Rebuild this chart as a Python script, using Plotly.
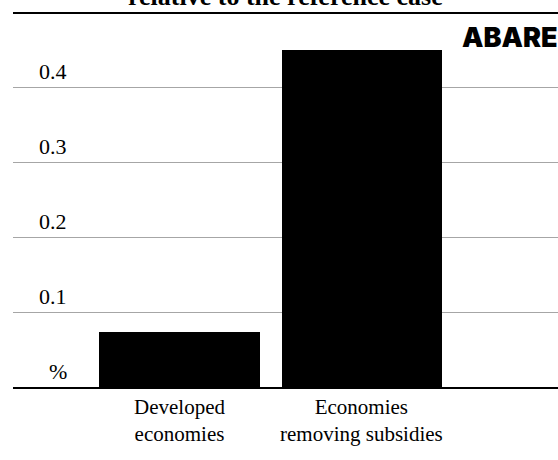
import plotly.graph_objects as go

categories = ["Developed<br>economies", "Economies<br>removing subsidies"]
values = [0.073, 0.45]
tick_vals = [0, 0.1, 0.2, 0.3, 0.4]
tick_text = ["%", "0.1", "0.2", "0.3", "0.4"]

_SERIF = "Liberation Serif"

fig = go.Figure(go.Bar(
    x=list(range(len(categories))), y=values,
    width=0.88,
    marker=dict(color="#000000", line=dict(width=0)),
    hoverinfo="skip",
))

# tick labels sit above their gridlines, right-aligned just left of the first bar
for v, t in zip(tick_vals, tick_text):
    fig.add_annotation(x=0.103, xref="paper", y=v, yref="y",
                       text=t, showarrow=False, xanchor="right", yanchor="middle",
                       yshift=16, font=dict(family=_SERIF, size=22, color="#000000"))

# category labels under the bars
for i, cat in enumerate(categories):
    fig.add_annotation(x=i, xref="x", y=0, yref="paper",
                       text=cat, showarrow=False, xanchor="center",
                       yanchor="middle", yshift=-33,
                       font=dict(family=_SERIF, size=21, color="#000000"))

# title cut off at the top of the frame
fig.add_annotation(x=(285 - 13) / 545, xref="paper", y=1, yref="paper",
                   text="<b>relative to the reference case</b>", showarrow=False,
                   xanchor="center", yanchor="middle", yshift=17,
                   font=dict(family=_SERIF, size=26, color="#000000"))

fig.add_annotation(x=1, xref="paper", y=0.935, yref="paper",
                   text="ABARE", showarrow=False, xanchor="right", yanchor="middle",
                   xshift=2,
                   font=dict(family="Inter", size=27, color="#000000", weight=900))

fig.add_shape(type="line", x0=0, x1=1, y0=1, y1=1, xref="paper", yref="paper",
              line=dict(color="#000000", width=2))

fig.update_layout(
    width=558, height=460,
    paper_bgcolor="#ffffff", plot_bgcolor="#ffffff",
    margin=dict(l=13, r=0, t=13, b=73),
    showlegend=False,
    bargap=0,
    xaxis=dict(range=[-0.912, 2.074], showticklabels=False,
               showline=True, linecolor="#000000", linewidth=1.5,
               showgrid=False, zeroline=False, ticks=""),
    yaxis=dict(range=[0, 0.499], tickvals=tick_vals, showticklabels=False,
               showgrid=True, gridcolor="#a6a6a6", gridwidth=1,
               zeroline=False, showline=False, ticks=""),
)

fig.write_html("out.html", config=dict(displayModeBar=False),
               post_script="document.body.style.margin='0';")
